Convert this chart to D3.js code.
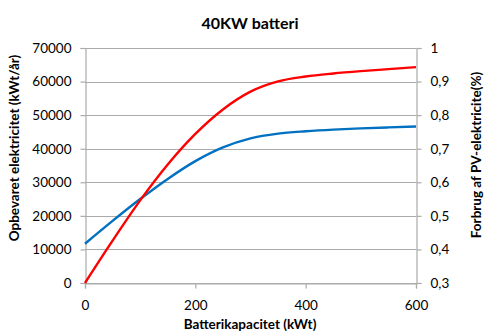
<!DOCTYPE html>
<html><head><meta charset="utf-8">
<script src="https://cdn.jsdelivr.net/npm/d3@7"></script>
<style>
body{margin:0;background:#fff;}
svg text{font-family:Lato,"Open Sans",sans-serif;fill:#000;}
</style></head>
<body><svg id="c" width="504" height="331"></svg>
<script>
const capacity = [0,50,100,150,200,250,300,350,400,450,500,550,600];
const stored = [0,12600,24600,35300,44400,51700,57000,60050,61500,62400,63100,63700,64300];
const consumption = [0.417,0.485,0.55,0.61,0.663,0.704,0.731,0.745,0.752,0.757,0.7605,0.7635,0.766];
const leftTicks = [0,10000,20000,30000,40000,50000,60000,70000];
const rightTicks = [0.3,0.4,0.5,0.6,0.7,0.8,0.9,1];
const xTicks = [0,200,400,600];
const title = "40KW batteri";
const xTitle = "Batterikapacitet (kWt)";
const yTitle = "Opbevaret elektricitet (kWt/år)";
const y2Title = "Forbrug af PV-elektricite(%)";

const svg = d3.select("#c");
const L=85, R=416, T=48, B=283;
const x = d3.scaleLinear().domain([0,600]).range([L,R]);
const y = d3.scaleLinear().domain([0,70000]).range([B,T]);
const y2 = d3.scaleLinear().domain([0.3,1]).range([B,T]);
const grid="#ababab";

// gridlines
svg.append("g").selectAll("line").data(leftTicks).join("line")
  .attr("x1",L).attr("x2",R).attr("y1",d=>Math.round(y(d))+0.5).attr("y2",d=>Math.round(y(d))+0.5)
  .attr("stroke",grid).attr("stroke-width",1.2);

const fmt2 = d=>d3.format(".1~f")(d).replace(".",",");
const gl = svg.append("g").attr("transform",`translate(${L+0.5},0)`)
  .call(d3.axisLeft(y).tickValues(leftTicks).tickSize(5).tickPadding(9).tickFormat(d3.format("d")));
const gr = svg.append("g").attr("transform",`translate(${R+0.5},0)`)
  .call(d3.axisRight(y2).tickValues(rightTicks).tickSize(5).tickPadding(9).tickFormat(fmt2));
const gb = svg.append("g").attr("transform",`translate(0,${B+0.5})`)
  .call(d3.axisBottom(x).tickValues(xTicks).tickSize(5).tickPadding(9).tickFormat(d3.format("d")));
[gl,gr,gb].forEach(g=>{
  g.selectAll("path").attr("stroke",grid).attr("stroke-width",1.2);
  g.selectAll("line").attr("stroke",grid).attr("stroke-width",1.2);
  g.selectAll("text").style("font-family","Lato").style("font-size","13.5px").attr("fill","#000");
});
gb.selectAll("text").attr("dy","0.9em");

const lineL = d3.line().x((d,i)=>x(capacity[i])).y(d=>y(d)).curve(d3.curveMonotoneX);
const lineR = d3.line().x((d,i)=>x(capacity[i])).y(d=>y2(d)).curve(d3.curveMonotoneX);
svg.append("path").attr("d",lineR(consumption)).attr("fill","none").attr("stroke","#0070c0").attr("stroke-width",2.4);
svg.append("path").attr("d",lineL(stored)).attr("fill","none").attr("stroke","#ff0000").attr("stroke-width",2.4);

svg.append("text").attr("x",250).attr("y",29).attr("text-anchor","middle")
  .style("font-weight","bold").style("font-size","16px").text(title);
svg.append("text").attr("x",250).attr("y",329).attr("text-anchor","middle")
  .style("font-weight","bold").style("font-size","13.5px").text(xTitle);
svg.append("text").attr("transform","translate(19,148) rotate(-90)").attr("text-anchor","middle")
  .style("font-weight","bold").style("font-size","13.5px").text(yTitle);
svg.append("text").attr("transform","translate(481,155) rotate(-90)").attr("text-anchor","middle")
  .style("font-weight","bold").style("font-size","13.5px").text(y2Title);
</script></body></html>
